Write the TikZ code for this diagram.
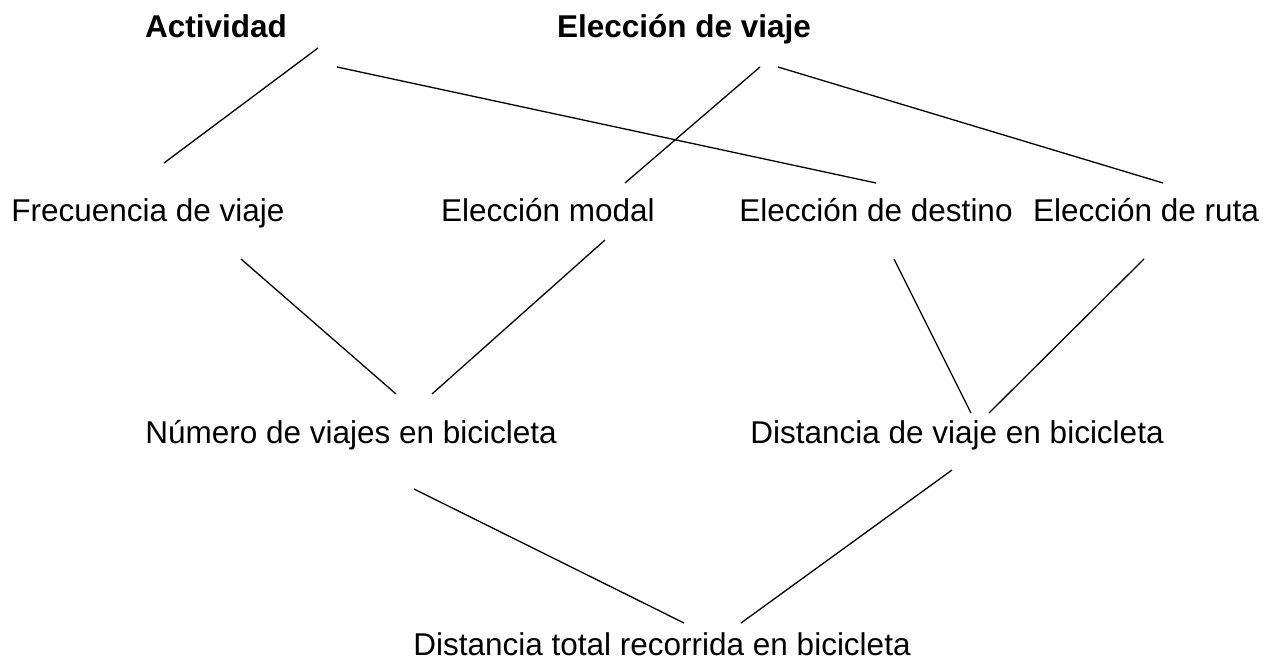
\documentclass[tikz,border=0pt]{standalone}
\usepackage{fontspec}
\setmainfont{Liberation Sans}
\begin{document}
\begin{tikzpicture}[x=1pt,y=-1pt,
  lbl/.style={anchor=base,inner sep=0pt,font=\fontsize{31.5}{38}\selectfont},
  ttl/.style={lbl,font=\fontsize{31.5}{38}\selectfont\bfseries},
  link/.style={line width=1.3pt,black}]
\useasboundingbox (0,0) rectangle (1263,663);
% titles
\node[ttl] (act) at (216,38) {Actividad};
\node[ttl] (ev) at (684,38) {Elección de viaje};
% second row
\node[lbl] (fv) at (148,222) {Frecuencia de viaje};
\node[lbl] (em) at (548,222) {Elección modal};
\node[lbl] (ed) at (876,222) {Elección de destino};
\node[lbl] (er) at (1146,222) {Elección de ruta};
% third row
\node[lbl] (nv) at (351,443) {Número de viajes en bicicleta};
\node[lbl] (dv) at (957,443) {Distancia de viaje en bicicleta};
% bottom
\node[lbl] (dt) at (662,655) {Distancia total recorrida en bicicleta};
% connector ends
\coordinate (actA) at (318,48);  \coordinate (fvT) at (164,163);
\coordinate (actB) at (337,67);  \coordinate (edT) at (876,183);
\coordinate (evA) at (760,67);   \coordinate (emT) at (625,183);
\coordinate (evB) at (778,67);   \coordinate (erT) at (1163,183);
\coordinate (fvB) at (241,259);  \coordinate (nvA) at (396,394);
\coordinate (emB) at (605,240);  \coordinate (nvB) at (432,394);
\coordinate (edB) at (894,259);  \coordinate (dvA) at (971,413);
\coordinate (erB) at (1144,259); \coordinate (dvB) at (989,413);
\coordinate (nvD) at (414,489);  \coordinate (dtA) at (684,623);
\coordinate (dvD) at (952,470);  \coordinate (dtB) at (741,623);
\draw[link] (actA) -- (fvT);
\draw[link] (actB) -- (edT);
\draw[link] (evA) -- (emT);
\draw[link] (evB) -- (erT);
\draw[link] (fvB) -- (nvA);
\draw[link] (emB) -- (nvB);
\draw[link] (edB) -- (dvA);
\draw[link] (erB) -- (dvB);
\draw[link] (nvD) -- (dtA);
\draw[link] (dvD) -- (dtB);
\end{tikzpicture}
\end{document}
